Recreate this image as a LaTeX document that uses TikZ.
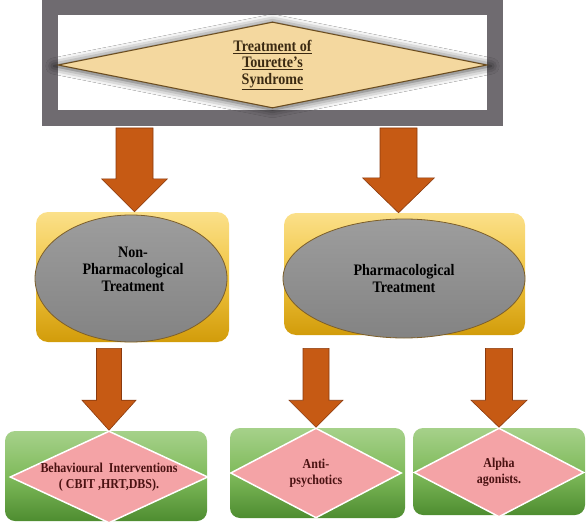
\documentclass[tikz,border=0pt]{standalone}
\usepackage{fontspec}
\setmainfont{Liberation Serif}[FakeStretch=0.88]
\usetikzlibrary{shapes.geometric,calc,shadows.blur}
\definecolor{framegray}{HTML}{6F6B70}
\definecolor{tanfill}{HTML}{F4D89F}
\definecolor{tanline}{HTML}{6B4C1E}
\definecolor{tantext}{HTML}{3B2A12}
\definecolor{goldtop}{HTML}{FBE08A}
\definecolor{goldmid}{HTML}{F0C440}
\definecolor{goldbot}{HTML}{D29C0A}
\definecolor{greytop}{HTML}{9D9D9D}
\definecolor{greybot}{HTML}{838383}
\definecolor{beanline}{HTML}{7D5F2A}
\definecolor{greentop}{HTML}{A6D18A}
\definecolor{greenmid}{HTML}{80BB5C}
\definecolor{greenbot}{HTML}{4E8D30}
\definecolor{pinkfill}{HTML}{F4A3A6}
\definecolor{pinktext}{HTML}{4A1212}
\definecolor{arrowfill}{HTML}{C65A14}
\definecolor{arrowline}{HTML}{8A3A0E}
\begin{document}
\begin{tikzpicture}[x=1pt, y=-1pt, font=\bfseries,
    topdiam/.style={diamond, aspect=5, inner sep=0pt, fill=tanfill, draw=tanline, line width=1pt,
      text=tantext, align=center, font=\fontsize{16}{16.5}\selectfont\bfseries,
      blur shadow={shadow xshift=0pt, shadow yshift=-1pt, shadow scale=1.02, shadow opacity=75, shadow blur radius=8pt}},
    goldbox/.style={rounded corners=12pt, top color=goldtop, bottom color=goldbot, middle color=goldmid, inner sep=0pt},
    greybean/.style={ellipse, inner sep=0pt, top color=greytop, bottom color=greybot, draw=beanline, line width=0.8pt,
      align=center, font=\fontsize{16}{17}\selectfont\bfseries},
    greenbox/.style={rounded corners=10pt, top color=greentop, bottom color=greenbot, middle color=greenmid, inner sep=0pt},
    pinkdiam/.style={diamond, inner sep=0pt, fill=pinkfill, draw=white, line width=1.5pt,
      text=pinktext, align=center, font=\fontsize{13.6}{16}\selectfont\bfseries},
    blockarrow/.style={fill=arrowfill, draw=arrowline, line width=0.6pt, line join=miter}]
  \useasboundingbox (0,0) rectangle (586,524);
  % title in its frame
  \node[draw=framegray, line width=16pt, fill=white, minimum width=445pt, minimum height=111pt, inner sep=0pt] (tt) at (272.5,63) {};
  \node[topdiam, minimum width=429pt, minimum height=86pt] (ttd) at (272.5,65)
    {\underline{Treatment of}\\\underline{Tourette’s}\\\underline{Syndrome}};
  % two kinds of treatment
  \node[goldbox, minimum width=193pt, minimum height=130pt] (nonphbox) at (132.5,277) {};
  \node[greybean, minimum width=192pt, minimum height=127pt] (nonph) at (131,278.5) {};
  \node[align=center, font=\fontsize{16}{17}\selectfont\bfseries] (nonphtxt) at (133,269) {Non-\\Pharmacological\\Treatment};
  \node[goldbox, minimum width=241pt, minimum height=122pt] (phbox) at (404.5,274) {};
  \node[greybean, minimum width=242pt, minimum height=119pt] (ph) at (404,278.5) {Pharmacological\\Treatment};
  % options
  \node[greenbox, minimum width=202pt, minimum height=90pt] (behavbox) at (106,476) {};
  \node[pinkdiam, aspect=2.15, minimum width=198pt, minimum height=92pt] (behav) at (109,477)
    {Behavioural~ Interventions\\( CBIT ,HRT,DBS).};
  \node[greenbox, minimum width=175pt, minimum height=90pt] (antibox) at (317.5,473) {};
  \node[pinkdiam, aspect=1.9, minimum width=171pt, minimum height=90pt] (anti) at (316,473) {Anti-\\psychotics};
  \node[greenbox, minimum width=172pt, minimum height=87pt] (alphabox) at (499,471.5) {};
  \node[pinkdiam, aspect=1.9, minimum width=170pt, minimum height=89pt] (alpha) at (499,472.5) {Alpha\\agonists.};
  % block arrows: from/to/gap/dx/shaft/head/headlength
  \foreach \s/\t/\g/\dx/\sw/\hw/\hl in {tt/nonphbox/1.5/2/18.5/33/33, tt/phbox/1.5/-6/18.5/36/35,
      nonph/behav/6/0/12.5/27/30, ph/anti/10/0/13/27/27, ph/alpha/10/0/13.5/28/27} {
    \filldraw[blockarrow] let \p1=(\s.south -| \t.north), \p2=($(\t.north)+(\dx,0)$) in
      (\x2-\sw pt,\y1-\g pt) -- (\x2+\sw pt,\y1-\g pt) -- (\x2+\sw pt,\y2+\hl pt) -- (\x2+\hw pt,\y2+\hl pt)
      -- (\p2) -- (\x2-\hw pt,\y2+\hl pt) -- (\x2-\sw pt,\y2+\hl pt) -- cycle;
  }
\end{tikzpicture}
\end{document}
